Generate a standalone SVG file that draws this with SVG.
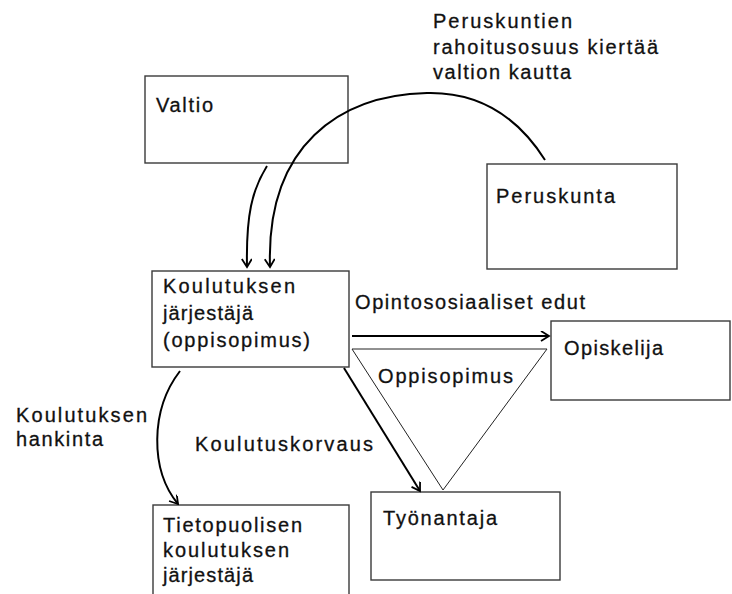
<svg xmlns="http://www.w3.org/2000/svg" width="732" height="594" viewBox="0 0 732 594">
  <style>
    .box { fill: #ffffff; stroke: #3a3a3a; stroke-width: 1.4; }
    .lbl { font-family: "Liberation Sans", Arial, sans-serif; font-size: 20px; fill: #111111; stroke: #111111; stroke-width: 0.3; }
    .flow { fill: none; stroke: #000000; stroke-width: 2; }
    .thin { fill: none; stroke: #222222; stroke-width: 1; }
  </style>
  <defs>
    <marker id="open" markerUnits="userSpaceOnUse" markerWidth="12" markerHeight="12" refX="9" refY="5" orient="auto">
      <path d="M1,0 L9,5 L1,10" fill="none" stroke="#000000" stroke-width="1.8"/>
    </marker>
  </defs>
  <rect width="732" height="594" fill="#ffffff"/>

  <!-- nodes -->
  <g id="valtio">
    <rect class="box" x="145" y="76" width="203" height="87"/>
    <text class="lbl" x="156" y="112" textLength="57" lengthAdjust="spacing">Valtio</text>
  </g>
  <g id="peruskunta">
    <rect class="box" x="487" y="164" width="190" height="105"/>
    <text class="lbl" x="496" y="203" textLength="119" lengthAdjust="spacing">Peruskunta</text>
  </g>
  <g id="koulutuksen-jarjestaja">
    <rect class="box" x="152" y="271" width="197" height="96"/>
    <text class="lbl" x="163" y="293" textLength="132" lengthAdjust="spacing">Koulutuksen</text>
    <text class="lbl" x="163" y="320" textLength="90" lengthAdjust="spacing">järjestäjä</text>
    <text class="lbl" x="163" y="347" textLength="147" lengthAdjust="spacing">(oppisopimus)</text>
  </g>
  <g id="opiskelija">
    <rect class="box" x="551" y="321" width="179" height="79"/>
    <text class="lbl" x="564" y="355" textLength="99" lengthAdjust="spacing">Opiskelija</text>
  </g>
  <g id="tyonantaja">
    <rect class="box" x="371" y="492" width="189" height="88"/>
    <text class="lbl" x="383" y="525" textLength="114" lengthAdjust="spacing">Työnantaja</text>
  </g>
  <g id="tietopuolinen">
    <rect class="box" x="153" y="505" width="196" height="100"/>
    <text class="lbl" x="163" y="532" textLength="139" lengthAdjust="spacing">Tietopuolisen</text>
    <text class="lbl" x="163" y="557" textLength="126" lengthAdjust="spacing">koulutuksen</text>
    <text class="lbl" x="163" y="582" textLength="90" lengthAdjust="spacing">järjestäjä</text>
  </g>

  <!-- connectors -->
  <g id="connectors">
    <path class="flow" d="M267,166 C252,190 246,215 247,267" marker-end="url(#open)"/>
    <path class="flow" d="M545,160 C512,108 470,92 427,93 C340,95 266,145 270,267" marker-end="url(#open)"/>
    <path class="flow" d="M352,336 L549,336" marker-end="url(#open)"/>
    <path class="thin" d="M352,349 L547,349 L443,490 Z"/>
    <path class="flow" d="M344,368 L420,491" marker-end="url(#open)"/>
    <path class="flow" d="M180,371 C150,410 150,470 178,504" marker-end="url(#open)"/>

    <text class="lbl" x="433" y="28" textLength="139" lengthAdjust="spacing">Peruskuntien</text>
    <text class="lbl" x="433" y="54" textLength="225" lengthAdjust="spacing">rahoitusosuus kiertää</text>
    <text class="lbl" x="433" y="79" textLength="138" lengthAdjust="spacing">valtion kautta</text>
    <text class="lbl" x="355" y="309" textLength="230" lengthAdjust="spacing">Opintososiaaliset edut</text>
    <text class="lbl" x="378" y="383" textLength="135" lengthAdjust="spacing">Oppisopimus</text>
    <text class="lbl" x="16" y="422" textLength="131" lengthAdjust="spacing">Koulutuksen</text>
    <text class="lbl" x="16" y="446" textLength="87" lengthAdjust="spacing">hankinta</text>
    <text class="lbl" x="195" y="451" textLength="178" lengthAdjust="spacing">Koulutuskorvaus</text>
  </g>
</svg>
